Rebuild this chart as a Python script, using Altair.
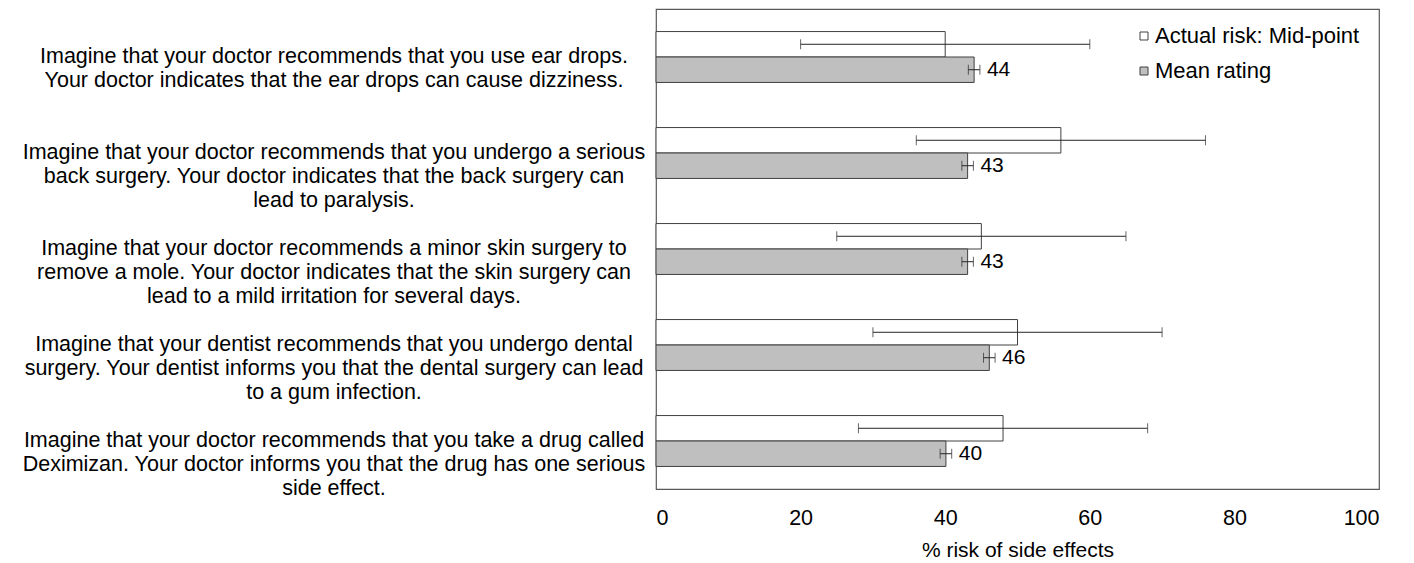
import altair as alt
import pandas as pd

categories = [
    "Imagine that your doctor recommends that you use ear drops.\nYour doctor indicates that the ear drops can cause dizziness.",
    "Imagine that your doctor recommends that you undergo a serious\nback surgery. Your doctor indicates that the back surgery can\nlead to paralysis.",
    "Imagine that your doctor recommends a minor skin surgery to\nremove a mole. Your doctor indicates that the skin surgery can\nlead to a mild irritation for several days.",
    "Imagine that your dentist recommends that you undergo dental\nsurgery. Your dentist informs you that the dental surgery can lead\nto a gum infection.",
    "Imagine that your doctor recommends that you take a drug called\nDeximizan. Your doctor informs you that the drug has one serious\nside effect.",
]
series = ["Actual risk: Mid-point", "Mean rating"]
actual_mid = [40, 56, 45, 50, 48]
actual_err = [20, 20, 20, 20, 20]
mean_rating = [44.0, 43.1, 43.1, 46.1, 40.1]
mean_err = [0.8, 0.8, 0.8, 0.8, 0.8]
x_ticks = [0, 20, 40, 60, 80, 100]

rows = []
for i, c in enumerate(categories):
    rows.append(dict(category=c, series=series[0], value=actual_mid[i],
                     lo=actual_mid[i] - actual_err[i], hi=actual_mid[i] + actual_err[i], label=""))
    rows.append(dict(category=c, series=series[1], value=mean_rating[i],
                     lo=mean_rating[i] - mean_err[i], hi=mean_rating[i] + mean_err[i],
                     label=str(int(round(mean_rating[i])))))
df = pd.DataFrame(rows)
cat_df = pd.DataFrame({"category": categories})

FONT = "Liberation Sans"

y_enc = alt.Y("category:N", sort=categories, axis=None,
              scale=alt.Scale(paddingInner=0.47, paddingOuter=0.235))
yoff_enc = alt.YOffset("series:N", sort=series,
                       scale=alt.Scale(domain=series, paddingInner=0, paddingOuter=0))
x_scale = alt.Scale(domain=[0, 100], nice=False, zero=True)

base = alt.Chart(df)

bars = base.mark_bar(stroke="#404040", strokeWidth=1).encode(
    x=alt.X("value:Q", scale=x_scale,
            axis=alt.Axis(values=x_ticks, grid=False, ticks=False, domain=False,
                          labelFontSize=21.5, labelPadding=18, labelColor="#000000",
                          labelFont=FONT, title="% risk of side effects",
                          titleFont=FONT, titleFontSize=21, titleFontWeight="normal",
                          titleColor="#000000", titlePadding=11)),
    y=y_enc,
    yOffset=yoff_enc,
    fill=alt.Fill("series:N", sort=series,
                  scale=alt.Scale(domain=series, range=["#FFFFFF", "#BFBFBF"]),
                  legend=alt.Legend(title=None, orient="none", legendX=477, legendY=16,
                                    symbolType="square", symbolSize=64,
                                    symbolStrokeColor="#404040", symbolStrokeWidth=1,
                                    labelFont=FONT, labelFontSize=22, labelColor="#000000",
                                    labelLimit=0, labelOffset=0, rowPadding=13, padding=0)),
)

err_rule = base.mark_rule(color="#262626", strokeWidth=1).encode(
    x=alt.X("lo:Q", scale=x_scale), x2="hi:Q", y=y_enc, yOffset=yoff_enc)

err_lo = base.mark_tick(color="#262626", thickness=1, size=10).encode(
    x=alt.X("lo:Q", scale=x_scale), y=y_enc, yOffset=yoff_enc)
err_hi = base.mark_tick(color="#262626", thickness=1, size=10).encode(
    x=alt.X("hi:Q", scale=x_scale), y=y_enc, yOffset=yoff_enc)

value_labels = base.transform_filter(alt.datum.label != "").mark_text(
    align="left", baseline="middle", dx=7, font=FONT, fontSize=21, color="#000000").encode(
    x=alt.X("hi:Q", scale=x_scale), y=y_enc, yOffset=yoff_enc, text="label:N")

cat_labels = alt.Chart(cat_df).mark_text(
    align="center", baseline="middle", font=FONT, fontSize=21.5, lineHeight=24,
    lineBreak="\n", color="#000000").encode(
    x=alt.value(-322), y=y_enc, text="category:N")

chart = alt.layer(bars, err_rule, err_lo, err_hi, value_labels, cat_labels).properties(
    width=723, height=480,
    autosize=alt.AutoSizeParams(type="none"),
    padding={"left": 648, "top": 1, "right": 27, "bottom": 74},
).configure_view(stroke="#595959", strokeWidth=1.2)

chart.save("out.html", embed_options={"renderer": "svg", "actions": False})
